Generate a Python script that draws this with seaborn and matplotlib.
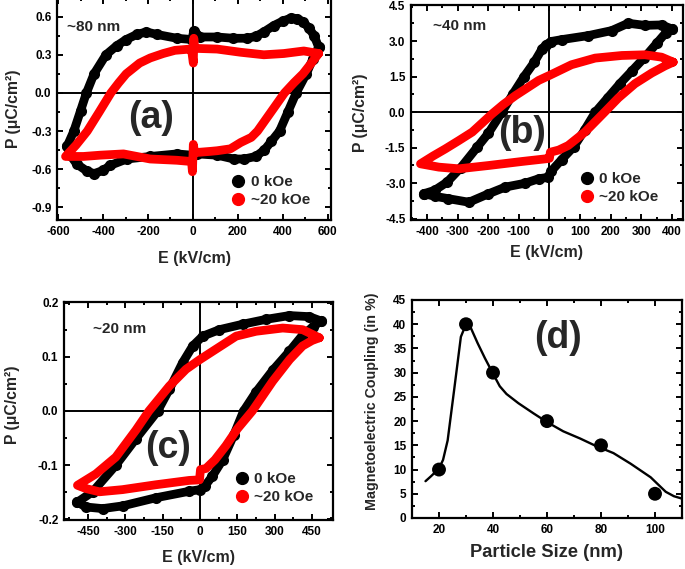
import numpy as np
import pandas as pd
import matplotlib
matplotlib.use("Agg")
import matplotlib.pyplot as plt
import seaborn as sns
from matplotlib.lines import Line2D
from matplotlib.ticker import MultipleLocator, FormatStrFormatter

# ---------------- data ----------------
# (a) ~80 nm  : upper branch (from +Emax to -Emax), lower branch (from -Emax to +Emax)
a0_E_up = [560, 540, 517, 490, 465, 438, 400, 360, 316, 280, 242, 180, 108, 33, 4, -4, -71, -160, -207, -250, -297, -340, -387, -440, -474, -500, -530, -560]
a0_P_up = [0.36, 0.45, 0.51, 0.56, 0.585, 0.59, 0.565, 0.53, 0.48, 0.445, 0.43, 0.43, 0.44, 0.44, 0.49, 0.42, 0.43, 0.46, 0.48, 0.46, 0.42, 0.37, 0.30, 0.15, 0.0, -0.14, -0.30, -0.42]
a0_E_dn = [-560, -546, -517, -472, -440, -400, -368, -294, -190, -71, -4, 4, 19, 108, 182, 228, 280, 318, 350, 386, 423, 460, 505, 535, 560]
a0_P_dn = [-0.42, -0.49, -0.56, -0.615, -0.635, -0.61, -0.57, -0.52, -0.50, -0.48, -0.49, -0.47, -0.48, -0.49, -0.52, -0.52, -0.50, -0.45, -0.38, -0.30, -0.15, 0.0, 0.15, 0.27, 0.36]
a20_E_up = [560, 494, 405, 316, 212, 108, 19, 8, 4, 2, -6, -12, -80, -132, -190, -237, -297, -330, -365, -417, -470, -520, -567]
a20_P_up = [0.31, 0.33, 0.31, 0.30, 0.32, 0.345, 0.35, 0.35, 0.43, 0.235, 0.34, 0.345, 0.335, 0.31, 0.275, 0.235, 0.15, 0.08, 0.0, -0.15, -0.30, -0.41, -0.50]
a20_E_dn = [-567, -487, -413, -309, -190, -71, -6, -2, 2, 8, 78, 108, 167, 213, 260, 288, 348, 380, 408, 450, 490, 530, 560]
a20_P_dn = [-0.50, -0.50, -0.49, -0.48, -0.52, -0.53, -0.54, -0.62, -0.405, -0.47, -0.46, -0.455, -0.44, -0.39, -0.35, -0.30, -0.15, -0.07, 0.0, 0.08, 0.15, 0.24, 0.31]

# (b) ~40 nm
b0_E_up = [400, 366, 312, 257, 203, 127, 40, 5, -10, -24, -50, -84, -120, -155, -200, -236, -290, -334, -375, -410]
b0_P_up = [3.51, 3.68, 3.66, 3.75, 3.44, 3.23, 3.06, 2.98, 2.85, 2.67, 2.1, 1.48, 0.75, 0.0, -0.9, -1.48, -2.35, -2.95, -3.3, -3.44]
b0_E_dn = [-410, -374, -330, -263, -200, -144, -80, -35, -5, 5, 40, 80, 115, 150, 190, 230, 270, 310, 350, 380, 400]
b0_P_dn = [-3.44, -3.55, -3.65, -3.80, -3.45, -3.16, -3.0, -2.81, -2.75, -2.5, -2.0, -1.45, -0.75, 0.0, 0.6, 1.2, 1.75, 2.3, 2.9, 3.35, 3.51]
b20_E_up = [404, 366, 312, 236, 149, 72, 0, -35, -111, -150, -187, -252, -296, -340, -380, -421]
b20_P_up = [2.11, 2.32, 2.42, 2.39, 2.28, 2.0, 1.55, 1.34, 0.70, 0.33, -0.07, -0.84, -1.2, -1.55, -1.85, -2.18]
b20_E_dn = [-421, -361, -296, -198, -89, -13, 0, 3, 30, 61, 116, 180, 225, 279, 334, 377, 404]
b20_P_dn = [-2.18, -2.32, -2.39, -2.25, -2.08, -1.97, -1.95, -1.69, -1.6, -1.41, -0.84, 0.0, 0.6, 1.2, 1.65, 1.95, 2.11]

# (c) ~20 nm
c0_E_up = [486, 439, 359, 265, 171, 78, 11, -29, -70, -123, -170, -257, -338, -431, -492]
c0_P_up = [0.166, 0.174, 0.176, 0.169, 0.160, 0.150, 0.138, 0.12, 0.089, 0.040, 0.0, -0.051, -0.10, -0.149, -0.168]
c0_E_dn = [-492, -458, -391, -311, -177, -43, 0, 20, 50, 91, 135, 175, 225, 292, 359, 412, 453, 486]
c0_P_dn = [-0.168, -0.177, -0.180, -0.175, -0.160, -0.148, -0.145, -0.138, -0.12, -0.09, -0.045, 0.0, 0.035, 0.075, 0.11, 0.14, 0.155, 0.166]
c20_E_up = [479, 412, 332, 225, 145, 64, 0, -56, -123, -205, -257, -338, -418, -492]
c20_P_up = [0.135, 0.150, 0.153, 0.147, 0.138, 0.114, 0.095, 0.077, 0.046, 0.0, -0.035, -0.085, -0.116, -0.137]
c20_E_dn = [-492, -458, -404, -311, -177, -43, -2, 2, 24, 60, 104, 150, 210, 292, 360, 412, 450, 479]
c20_P_dn = [-0.137, -0.143, -0.149, -0.145, -0.136, -0.128, -0.127, -0.108, -0.106, -0.09, -0.064, -0.033, 0.0, 0.055, 0.095, 0.12, 0.13, 0.135]

# (d) magnetoelectric coupling vs particle size
sizes = [20, 30, 40, 60, 80, 100]
coupling = [10, 40, 30, 20, 15, 5]
fit_x = [15, 17, 20, 21.5, 23.2, 25.6, 28.1, 30, 31.5, 34.3, 37, 40, 42.5, 45, 49.4, 55, 60, 66, 72.3, 78, 84.6, 91, 98.4, 101, 104, 107, 110]
fit_y = [7.6, 8.6, 10.2, 12.0, 16.0, 26.4, 37.4, 40, 39.6, 36.1, 33, 29.8, 27.2, 25.6, 23.7, 21.6, 19.8, 17.9, 16.4, 14.9, 13.4, 11.2, 8.4, 7.0, 5.4, 4.5, 4.0]

legend_labels = ["0 kOe", "~20 kOe"]

# ---------------- style ----------------
sns.set_theme(style="ticks")
plt.rcParams['font.family'] = ['Liberation Sans', 'DejaVu Sans']
plt.rcParams['font.weight'] = 'bold'
plt.rcParams['axes.labelweight'] = 'bold'
plt.rcParams['axes.unicode_minus'] = False

W, H = 685, 569
fig = plt.figure(figsize=(W / 100, H / 100), dpi=100)


def add_ax(l, r, t, b):
    return fig.add_axes([l / W, 1 - b / H, (r - l) / W, (b - t) / H])


def style(ax, xmaj, xmin, ymaj, ymin, yfmt=None):
    for s in ax.spines.values():
        s.set_linewidth(1.6)
        s.set_color('black')
        s.set_visible(True)
    ax.xaxis.set_major_locator(MultipleLocator(xmaj))
    ax.xaxis.set_minor_locator(MultipleLocator(xmin))
    ax.yaxis.set_major_locator(MultipleLocator(ymaj))
    ax.yaxis.set_minor_locator(MultipleLocator(ymin))
    if yfmt:
        ax.yaxis.set_major_formatter(FormatStrFormatter(yfmt))
    ax.tick_params(which='both', direction='in', top=True, right=True,
                   width=1.4, colors='black', labelsize=8.5)
    ax.tick_params(which='major', length=4.5, pad=4)
    ax.tick_params(which='minor', length=2.5)
    ax.grid(False)


def loop(ax, E_up, P_up, E_dn, P_dn, color, z, mk):
    df = pd.DataFrame({'E': list(E_up) + list(E_dn), 'P': list(P_up) + list(P_dn)})
    kw = dict(marker='o', markersize=8, markeredgewidth=0) if mk else {}
    sns.lineplot(data=df, x='E', y='P', sort=False, estimator=None, color=color,
                 lw=6.3, ax=ax, legend=False, zorder=z,
                 solid_capstyle='round', solid_joinstyle='round', **kw)


def legend(ax, anchor):
    handles = [Line2D([], [], marker='o', ls='', color='black', markersize=8.5),
               Line2D([], [], marker='o', ls='', color='red', markersize=8.5)]
    ax.legend(handles, legend_labels, loc='lower right', bbox_to_anchor=anchor,
              frameon=False, prop={'weight': 'bold', 'size': 11},
              handlelength=0.8, handletextpad=0.4, labelspacing=0.25,
              borderpad=0, borderaxespad=0)


def finish(ax, xl, yl, xlab_y, ylab_x, xfs=11.5, yfs=11.3, ylab_y=0.5):
    ax.set_xlabel(xl, fontsize=xfs, fontweight='bold')
    ax.set_ylabel(yl, fontsize=yfs, fontweight='bold')
    ax.xaxis.set_label_coords(0.5, xlab_y)
    ax.yaxis.set_label_coords(ylab_x, ylab_y)
    ax.xaxis.label.set_va('center')
    ax.yaxis.label.set_va('center')


ylab = "P (\u03bcC/cm\u00b2)"
xlab = "E (kV/cm)"

# (a)
axa = add_ax(57, 331, -2.4, 220)
axa.axhline(0, color='black', lw=1.4, zorder=1)
axa.axvline(0, color='black', lw=1.4, zorder=1)
loop(axa, a0_E_up, a0_P_up, a0_E_dn, a0_P_dn, 'black', 2, True)
loop(axa, a20_E_up, a20_P_up, a20_E_dn, a20_P_dn, 'red', 3, False)
axa.set_xlim(-605, 615)
axa.set_ylim(-1.0, 0.75)
style(axa, 200, 100, 0.3, 0.15, '%.1f')
axa.text(-560, 0.52, "~80 nm", fontsize=11, fontweight='bold', ha='left', va='center')
axa.text(-187, -0.2, "(a)", fontsize=27, fontweight='bold', ha='center', va='center', zorder=5)
legend(axa, (0.923, 0.058))
finish(axa, xlab, ylab, -0.171, -0.16)

# (b)
axb = add_ax(411, 683, 5, 220)
axb.axhline(0, color='black', lw=1.4, zorder=1)
axb.axvline(0, color='black', lw=1.4, zorder=1)
loop(axb, b0_E_up, b0_P_up, b0_E_dn, b0_P_dn, 'black', 2, True)
loop(axb, b20_E_up, b20_P_up, b20_E_dn, b20_P_dn, 'red', 3, False)
axb.set_xlim(-452, 436)
axb.set_ylim(-4.55, 4.52)
style(axb, 100, 50, 1.5, 0.75, '%.1f')
axb.text(-379, 3.64, "~40 nm", fontsize=11, fontweight='bold', ha='left', va='center')
axb.text(-89, -0.87, "(b)", fontsize=27, fontweight='bold', ha='center', va='center', zorder=5)
legend(axb, (0.908, 0.074))
finish(axb, xlab, ylab, -0.153, -0.1875)

# (c)
axc = add_ax(64, 333, 302, 520)
axc.axhline(0, color='black', lw=1.4, zorder=1)
axc.axvline(0, color='black', lw=1.4, zorder=1)
loop(axc, c0_E_up, c0_P_up, c0_E_dn, c0_P_dn, 'black', 2, True)
loop(axc, c20_E_up, c20_P_up, c20_E_dn, c20_P_dn, 'red', 3, False)
axc.set_xlim(-546, 534)
axc.set_ylim(-0.201, 0.201)
style(axc, 150, 75, 0.1, 0.05, '%.1f')
axc.text(-430, 0.152, "~20 nm", fontsize=11, fontweight='bold', ha='left', va='center')
axc.text(-130, -0.068, "(c)", fontsize=27, fontweight='bold', ha='center', va='center', zorder=5)
legend(axc, (0.926, 0.073))
finish(axc, xlab, ylab, -0.17, -0.19, ylab_y=0.53)

# (d)
axd = add_ax(412, 682, 300, 518)
sns.lineplot(x=fit_x, y=fit_y, sort=False, estimator=None, color='black', lw=1.7, ax=axd, legend=False)
sns.scatterplot(x=sizes, y=coupling, s=100, color='black', edgecolor='none', ax=axd, zorder=3, legend=False)
axd.set_xlim(10, 110)
axd.set_ylim(0, 45)
style(axd, 20, 10, 5, 2.5)
axd.text(63.9, 37.2, "(d)", fontsize=27, fontweight='bold', ha='center', va='center')
finish(axd, "Particle Size (nm)", "Magnetoelectric Coupling (in %)", -0.158, -0.148,
       xfs=13.2, yfs=10.3, ylab_y=0.535)

fig.savefig("out.png", dpi=100)
